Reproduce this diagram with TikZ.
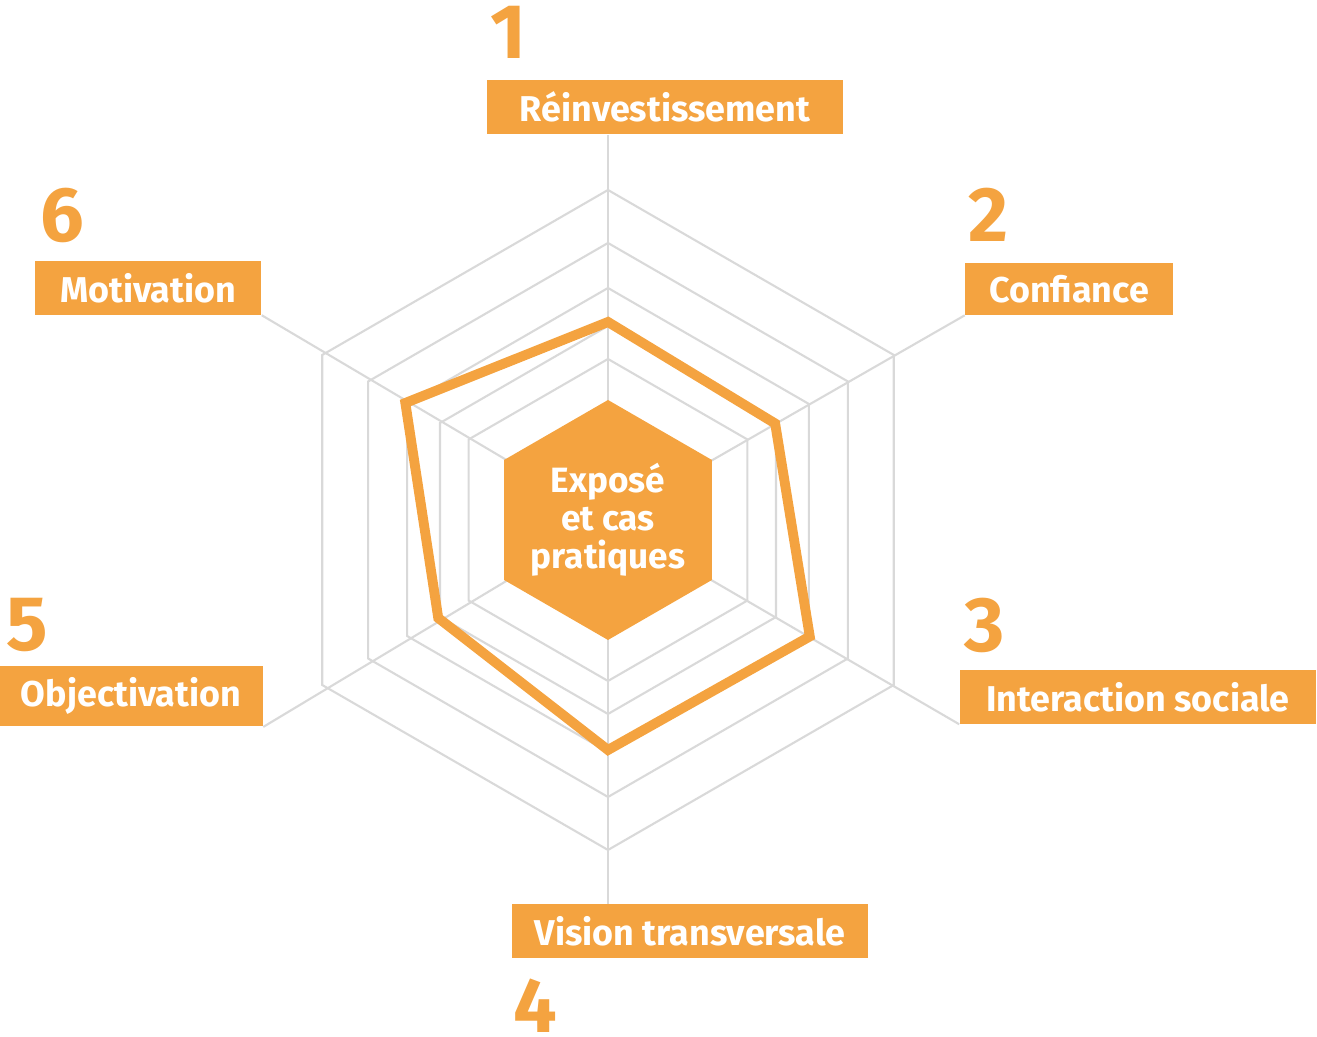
\documentclass[tikz,border=0pt]{standalone}
\usepackage{fontspec}
\setmainfont{Fira Sans}
\usetikzlibrary{positioning,calc}
\definecolor{orangeA}{HTML}{F4A340}
\definecolor{gridgray}{HTML}{D9D9D9}
\begin{document}
\begin{tikzpicture}[x=0.01cm,y=0.01cm,
        grid/.style={draw=gridgray,line width=0.6pt},
        label/.style={fill=orangeA,text=white,font=\bfseries\fontsize{10.2}{12}\selectfont,
          minimum height=0.47cm,inner xsep=0pt},
        number/.style={text=orangeA,font=\bfseries\fontsize{22}{26}\selectfont,inner sep=0pt},
        curve/.style={draw=orangeA,line width=2.8pt,line join=miter}]
        \useasboundingbox (0,0) rectangle (1317,1037);
        \coordinate (c) at (608,517);
        % boxes
        \node[label,minimum width=3.56cm] at (665,930) (b1) {Réinvestissement};
        \node[label,minimum width=2.07cm] at (1069,748) (b2) {Confiance};
        \node[label,minimum width=3.56cm] at (1138,340) (b3) {Interaction sociale};
        \node[label,minimum width=3.56cm] at (690,106) (b4) {Vision transversale};
        \node[label,minimum width=2.63cm] at (131,341) (b5) {Objectivation};
        \node[label,minimum width=2.26cm] at (148,749) (b6) {Motivation};
        \node[number] at (508,1005) (n1) {1};
        \node[number] at (988,822) (n2) {2};
        \node[number] at (985,412) (n3) {3};
        \node[number] at (535,31) (n4) {4};
        \node[number] at (27,412) (n5) {5};
        \node[number] at (62,822) (n6) {6};
        % spokes
        \draw[grid] (c) -- (b1.south -| c);
        \draw[grid] (c) -- (b2.south west);
        \draw[grid] (c) -- (b3.south west);
        \draw[grid] (c) -- (b4.north -| c);
        \draw[grid] (c) -- (b5.south east);
        \draw[grid] (c) -- (b6.south east);
        % rings
        \foreach \r in {330,277,232,194,161}
          \draw[grid] ($(c)+(90:\r)$) -- ($(c)+(30:\r)$) -- ($(c)+(-30:\r)$)
            -- ($(c)+(-90:\r)$) -- ($(c)+(-150:\r)$) -- ($(c)+(150:\r)$) -- cycle;
        % values
        \draw[curve] ($(c)+(90:198)$) -- ($(c)+(30:193)$) -- ($(c)+(-30:233)$)
            -- ($(c)+(-90:230)$) -- ($(c)+(-150:196)$) -- ($(c)+(150:234)$) -- cycle;
        \fill[orangeA] ($(c)+(90:120)$) -- ($(c)+(30:120)$) -- ($(c)+(-30:120)$)
            -- ($(c)+(-90:120)$) -- ($(c)+(-150:120)$) -- ($(c)+(150:120)$) -- cycle;
        \node[align=center,text=white,font=\bfseries\fontsize{10}{10.8}\selectfont] at (c) (mid)
          {Exposé\\et cas\\pratiques};
      \end{tikzpicture}
\end{document}
